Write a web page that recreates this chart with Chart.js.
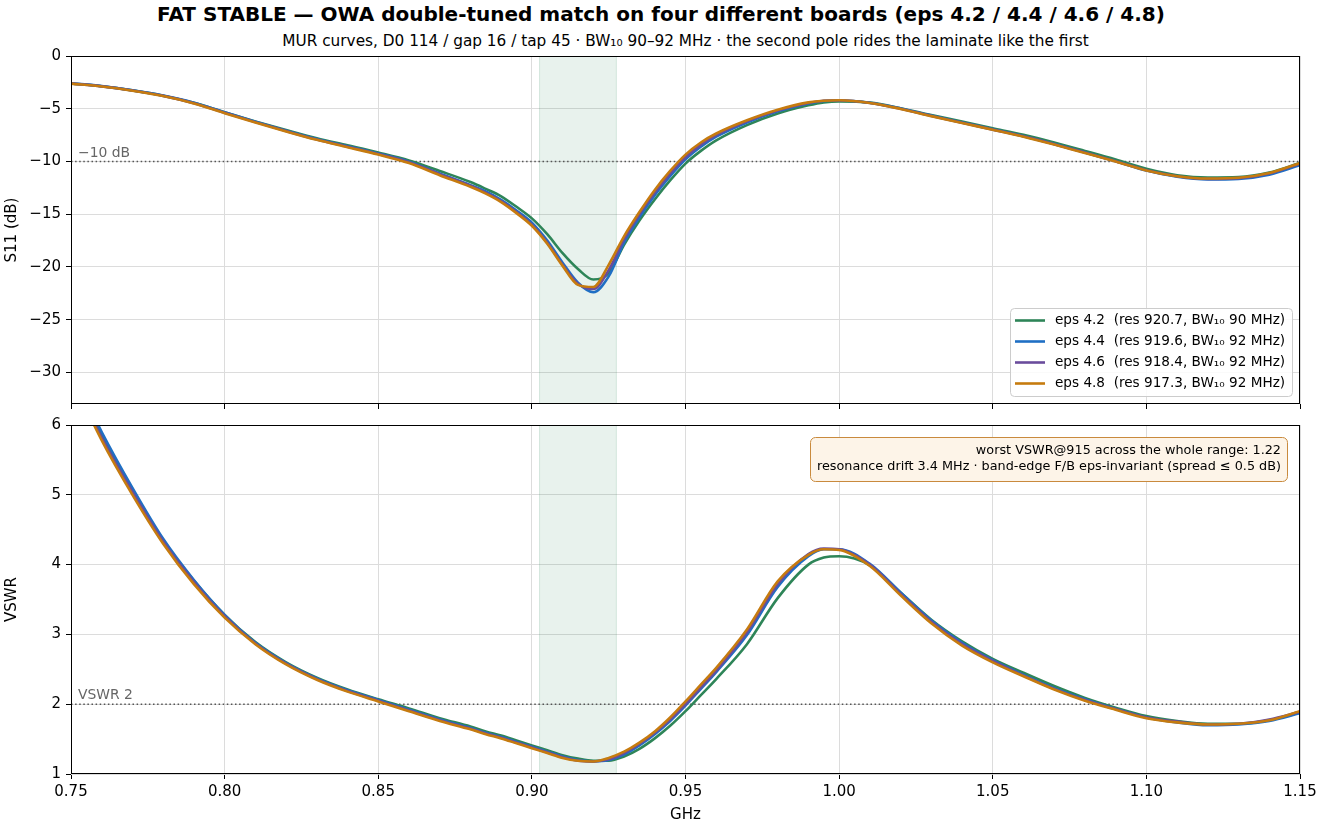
<!DOCTYPE html>
<html><head><meta charset="utf-8">
<script src="https://cdn.jsdelivr.net/npm/chart.js@4.4.1/dist/chart.umd.min.js"></script>
<style>
html,body{margin:0;padding:0;background:#fff;}
#wrap{position:relative;width:1322px;height:828px;overflow:hidden;font-family:"DejaVu Sans",sans-serif;background:#fff;}
#title{position:absolute;left:0;top:2px;width:1322px;text-align:center;font-weight:bold;font-size:20px;line-height:24px;color:#000;}
#sub{position:absolute;left:71px;top:32px;width:1229px;text-align:center;font-size:15.3px;line-height:18px;color:#000;white-space:nowrap;}
canvas{position:absolute;left:0;}
</style></head><body>
<div id="wrap">
<div id="title">FAT STABLE — OWA double-tuned match on four different boards (eps 4.2 / 4.4 / 4.6 / 4.8)</div>
<div id="sub">MUR curves, D0 114 / gap 16 / tap 45 · BW₁₀ 90–92 MHz · the second pole rides the laminate like the first</div>
<canvas id="c1" width="1322" height="410" style="top:0px"></canvas>
<canvas id="c2" width="1322" height="418" style="top:410px"></canvas>
</div>
<script>
// ---------- data ----------
const freq = [0.75,0.76,0.77,0.78,0.79,0.80,0.81,0.82,0.83,0.84,0.85,0.86,0.87,0.88,
  0.885,0.89,0.895,0.90,0.905,0.91,0.915,0.92,0.925,0.93,0.935,0.94,0.945,0.95,0.955,0.96,
  0.97,0.98,0.99,0.995,
  1.00,1.01,1.02,1.03,1.04,1.05,1.06,1.07,1.08,1.09,1.10,1.11,1.12,1.13,1.14,1.15];

const s11_eps42 = [-2.60,-2.87,-3.26,-3.76,-4.44,-5.33,-6.20,-7.02,-7.80,-8.47,-9.15,-9.90,-10.90,-11.95,
  -12.60,-13.30,-14.30,-15.40,-16.90,-18.70,-20.20,-21.20,-20.60,-17.90,-15.60,-13.60,-11.80,-10.20,-9.00,-8.00,
  -6.55,-5.45,-4.68,-4.40,
  -4.30,-4.42,-4.95,-5.60,-6.22,-6.85,-7.48,-8.20,-9.00,-9.82,-10.70,-11.30,-11.52,-11.48,-11.05,-10.15];
const s11_eps44 = [-2.58,-2.86,-3.25,-3.75,-4.43,-5.34,-6.23,-7.08,-7.88,-8.56,-9.25,-10.02,-11.15,-12.25,
  -12.85,-13.65,-14.65,-15.80,-17.50,-19.60,-21.50,-22.40,-20.90,-17.70,-15.30,-13.20,-11.40,-9.80,-8.60,-7.65,
  -6.30,-5.25,-4.50,-4.27,
  -4.22,-4.43,-4.97,-5.65,-6.30,-6.95,-7.60,-8.35,-9.15,-9.98,-10.86,-11.45,-11.70,-11.65,-11.25,-10.35];
const s11_eps46 = [-2.60,-2.88,-3.28,-3.78,-4.47,-5.38,-6.27,-7.12,-7.92,-8.60,-9.30,-10.08,-11.20,-12.30,
  -12.95,-13.75,-14.80,-16.00,-17.70,-19.80,-21.60,-22.10,-20.30,-17.40,-15.00,-12.95,-11.15,-9.60,-8.40,-7.50,
  -6.20,-5.18,-4.45,-4.25,
  -4.20,-4.45,-5.00,-5.68,-6.33,-6.98,-7.62,-8.36,-9.16,-9.97,-10.83,-11.40,-11.65,-11.58,-11.15,-10.20];
const s11_eps48 = [-2.62,-2.90,-3.30,-3.80,-4.50,-5.42,-6.30,-7.15,-7.95,-8.65,-9.35,-10.15,-11.30,-12.40,
  -13.05,-13.85,-14.90,-16.10,-17.80,-19.90,-21.70,-21.90,-19.80,-17.10,-14.80,-12.70,-10.90,-9.35,-8.20,-7.35,
  -6.10,-5.10,-4.40,-4.24,
  -4.20,-4.45,-5.02,-5.70,-6.35,-7.00,-7.65,-8.40,-9.20,-10.00,-10.85,-11.40,-11.62,-11.55,-11.10,-10.15];

const vswr_eps42 = [6.75,5.85,5.06,4.35,3.77,3.28,2.89,2.60,2.38,2.21,2.07,1.94,1.80,1.68,
  1.61,1.55,1.48,1.41,1.34,1.27,1.22,1.19,1.19,1.25,1.36,1.51,1.69,1.90,2.13,2.36,
  2.86,3.52,4.00,4.10,
  4.12,3.99,3.60,3.21,2.90,2.65,2.45,2.26,2.09,1.95,1.83,1.76,1.72,1.72,1.77,1.88];
const vswr_eps44 = [6.80,5.90,5.10,4.37,3.78,3.28,2.88,2.59,2.37,2.20,2.06,1.92,1.78,1.66,
  1.59,1.53,1.46,1.39,1.32,1.25,1.20,1.18,1.20,1.28,1.41,1.57,1.76,1.98,2.22,2.46,
  2.99,3.68,4.12,4.22,
  4.22,4.01,3.60,3.20,2.88,2.63,2.42,2.23,2.07,1.93,1.81,1.74,1.70,1.71,1.76,1.87];
const vswr_eps46 = [6.72,5.82,5.04,4.33,3.75,3.26,2.87,2.58,2.36,2.19,2.05,1.91,1.77,1.65,
  1.58,1.52,1.45,1.38,1.31,1.24,1.19,1.18,1.21,1.30,1.43,1.59,1.78,2.00,2.24,2.48,
  3.03,3.72,4.15,4.23,
  4.22,4.00,3.58,3.18,2.86,2.62,2.41,2.22,2.06,1.93,1.81,1.75,1.71,1.72,1.78,1.89];
const vswr_eps48 = [6.70,5.78,5.00,4.30,3.72,3.24,2.86,2.57,2.35,2.18,2.04,1.90,1.76,1.64,
  1.57,1.51,1.44,1.37,1.30,1.23,1.19,1.18,1.23,1.32,1.45,1.61,1.81,2.04,2.28,2.52,
  3.07,3.76,4.14,4.22,
  4.21,3.98,3.56,3.16,2.84,2.60,2.40,2.21,2.05,1.92,1.80,1.74,1.71,1.72,1.77,1.90];

const seriesLabels = [
  'eps 4.2  (res 920.7, BW\u2081\u2080 90 MHz)',
  'eps 4.4  (res 919.6, BW\u2081\u2080 92 MHz)',
  'eps 4.6  (res 918.4, BW\u2081\u2080 92 MHz)',
  'eps 4.8  (res 917.3, BW\u2081\u2080 92 MHz)'
];
const seriesColors = ['#2e8558','#1f6fc4','#6a4c9c','#c67b0f'];

const xTicks = [0.75,0.80,0.85,0.90,0.95,1.00,1.05,1.10,1.15];
const s11Ticks = [-30,-25,-20,-15,-10,-5,0];
const vswrTicks = [1,2,3,4,5,6];
const ismBand = [0.9025, 0.9275];
const s11Ref = -10, s11RefLabel = '\u221210 dB';
const vswrRef = 2, vswrRefLabel = 'VSWR 2';
const noteLines = ['worst VSWR@915 across the whole range: 1.22',
  'resonance drift 3.4 MHz \u00b7 band-edge F/B eps-invariant (spread \u2264 0.5 dB)'];

// ---------- helpers ----------
Chart.defaults.font.family = '"DejaVu Sans", sans-serif';
Chart.defaults.font.size = 15;
Chart.defaults.color = '#000';

const GRID = '#dcdcdc';
function fmtNum(v){ return v < 0 ? '\u2212' + Math.abs(v) : String(v); }

function makeDatasets(arrs){
  return arrs.map((arr,i)=>({
    label: seriesLabels[i],
    data: freq.map((f,j)=>({x:f, y:arr[j]})),
    borderColor: seriesColors[i],
    backgroundColor: seriesColors[i],
    borderWidth: 2.6,
    pointRadius: 0,
    cubicInterpolationMode: 'monotone',
    order: 4 - i,
    fill: false
  }));
}

const framePlugin = {
  id:'frame',
  afterDraw(chart){
    const {ctx, chartArea:a} = chart;
    ctx.save(); ctx.strokeStyle='#000'; ctx.lineWidth=1;
    ctx.strokeRect(Math.round(a.left)+0.5, Math.round(a.top)+0.5,
      Math.round(a.right-a.left)-1, Math.round(a.bottom-a.top)-1);
    ctx.restore();
  }
};
const bandPlugin = {
  id:'band',
  beforeDatasetsDraw(chart){
    const x = chart.scales.x, a = chart.chartArea, ctx = chart.ctx;
    const x0 = x.getPixelForValue(ismBand[0]), x1 = x.getPixelForValue(ismBand[1]);
    ctx.save();
    ctx.fillStyle='rgba(46,139,87,0.11)';
    ctx.fillRect(x0, a.top, x1-x0, a.bottom-a.top);
    ctx.strokeStyle='rgba(46,139,87,0.16)'; ctx.lineWidth=1;
    ctx.beginPath(); ctx.moveTo(x0,a.top); ctx.lineTo(x0,a.bottom);
    ctx.moveTo(x1,a.top); ctx.lineTo(x1,a.bottom); ctx.stroke();
    ctx.restore();
  }
};
function refLinePlugin(value, label){
  return {
    id:'ref',
    beforeDatasetsDraw(chart){
      const y = chart.scales.y.getPixelForValue(value), a = chart.chartArea, ctx = chart.ctx;
      ctx.save();
      ctx.strokeStyle='#555'; ctx.lineWidth=1.4; ctx.setLineDash([1.5,2.6]);
      ctx.beginPath(); ctx.moveTo(a.left, y); ctx.lineTo(a.right, y); ctx.stroke();
      ctx.setLineDash([]);
      ctx.fillStyle='#666'; ctx.font='13.9px "DejaVu Sans", sans-serif';
      ctx.textAlign='left'; ctx.textBaseline='middle';
      ctx.fillText(label, a.left+7, y-8.5);
      ctx.restore();
    }
  };
}
function roundRect(ctx,x,y,w,h,r){
  ctx.beginPath(); ctx.moveTo(x+r,y); ctx.lineTo(x+w-r,y); ctx.arcTo(x+w,y,x+w,y+r,r);
  ctx.lineTo(x+w,y+h-r); ctx.arcTo(x+w,y+h,x+w-r,y+h,r); ctx.lineTo(x+r,y+h);
  ctx.arcTo(x,y+h,x,y+h-r,r); ctx.lineTo(x,y+r); ctx.arcTo(x,y,x+r,y,r); ctx.closePath();
}
const legendPlugin = {
  id:'legendBox',
  afterDraw(chart){
    const ctx = chart.ctx, a = chart.chartArea;
    const w = 282, h = 88;
    const x = a.right - 8 - w, y = a.bottom - 8 - h;
    ctx.save();
    roundRect(ctx, x+0.5, y+0.5, w, h, 4);
    ctx.fillStyle='rgba(255,255,255,0.85)'; ctx.fill();
    ctx.strokeStyle='#cccccc'; ctx.lineWidth=1; ctx.stroke();
    ctx.font='13.6px "DejaVu Sans", sans-serif'; ctx.textBaseline='middle'; ctx.textAlign='left';
    chart.data.datasets.forEach((ds,i)=>{
      const yy = y + 12.5 + i*21;
      ctx.strokeStyle = ds.borderColor; ctx.lineWidth = 2.6;
      ctx.beginPath(); ctx.moveTo(x+5, yy); ctx.lineTo(x+35, yy); ctx.stroke();
      ctx.fillStyle='#000'; ctx.fillText(ds.label, x+45, yy);
    });
    ctx.restore();
  }
};
const notePlugin = {
  id:'note',
  afterDraw(chart){
    const ctx = chart.ctx, a = chart.chartArea;
    const w = 477, h = 44;
    const x = a.right - 13 - w, y = a.top + 12;
    ctx.save();
    roundRect(ctx, x+0.5, y+0.5, w, h, 5);
    ctx.fillStyle='#fdf4e8'; ctx.fill();
    ctx.strokeStyle='#c98a3d'; ctx.lineWidth=1; ctx.stroke();
    ctx.fillStyle='#000'; ctx.font='12.8px "DejaVu Sans", sans-serif';
    ctx.textAlign='right'; ctx.textBaseline='middle';
    ctx.fillText(noteLines[0], x+w-6, y+14);
    ctx.fillText(noteLines[1], x+w-6, y+30);
    ctx.restore();
  }
};

function xScale(showLabels){
  return {
    type:'linear', min:0.75, max:1.15,
    afterBuildTicks(s){ s.ticks = xTicks.map(v=>({value:v})); },
    ticks:{ display: showLabels, color:'#000', font:{size:15}, padding:4,
      callback:(v)=>Number(v).toFixed(2), maxRotation:0, autoSkip:false },
    grid:{ color:GRID, lineWidth:1, tickColor:'#000', tickLength:5, drawTicks:true },
    border:{ display:false },
    title: showLabels ? { display:true, text:'GHz', color:'#000', font:{size:15}, padding:{top:0,bottom:4} } : {display:false},
    afterFit(s){ s.height = showLabels ? 54 : 6; }
  };
}
function yScale(min, max, ticks, title){
  return {
    type:'linear', min:min, max:max,
    afterBuildTicks(s){ s.ticks = ticks.map(v=>({value:v})); },
    ticks:{ color:'#000', font:{size:15}, padding:5, callback:(v)=>fmtNum(v), autoSkip:false },
    grid:{ color:GRID, lineWidth:1, tickColor:'#000', tickLength:5, drawTicks:true },
    border:{ display:false },
    title:{ display:true, text:title, color:'#000', font:{size:15}, padding:{top:3,bottom:3} },
    afterFit(s){ s.width = 71; s.paddingTop = 0; s.paddingBottom = 0; }
  };
}
const commonOpts = {
  responsive:false, animation:false, devicePixelRatio:1, events:[],
  plugins:{ legend:{display:false}, tooltip:{enabled:false}, title:{display:false} }
};

new Chart(document.getElementById('c1'), {
  type:'line',
  data:{ datasets: makeDatasets([s11_eps42, s11_eps44, s11_eps46, s11_eps48]) },
  options: Object.assign({}, commonOpts, {
    layout:{ padding:{left:0, right:22, top:56, bottom:0} },
    scales:{ x: xScale(false), y: yScale(-33, 0, s11Ticks, 'S11 (dB)') }
  }),
  plugins:[bandPlugin, refLinePlugin(s11Ref, s11RefLabel), legendPlugin, framePlugin]
});

new Chart(document.getElementById('c2'), {
  type:'line',
  data:{ datasets: makeDatasets([vswr_eps42, vswr_eps44, vswr_eps46, vswr_eps48]) },
  options: Object.assign({}, commonOpts, {
    layout:{ padding:{left:0, right:22, top:15, bottom:0} },
    scales:{ x: xScale(true), y: yScale(1, 6, vswrTicks, 'VSWR') }
  }),
  plugins:[bandPlugin, refLinePlugin(vswrRef, vswrRefLabel), notePlugin, framePlugin]
});
</script>
</body></html>
